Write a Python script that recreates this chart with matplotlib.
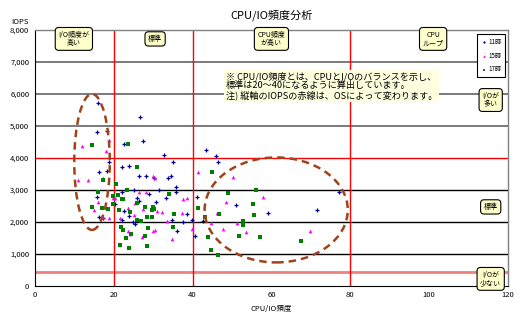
import matplotlib
matplotlib.use("Agg")
import matplotlib.pyplot as plt
from matplotlib.patches import Ellipse
from matplotlib.ticker import FuncFormatter

plt.rcParams['font.family'] = ['Noto Sans CJK JP', 'DejaVu Sans']

# 11時
x11 = [16.0, 26.6, 15.7, 22.6, 27.4, 18.8, 22.1, 23.9, 16.2, 18.3, 28.2, 26.4,
       32.7, 43.4, 35.1, 45.9, 46.4, 34.5, 33.8, 30.2, 22.1, 25.1, 31.5, 15.7,
       22.6, 25.9, 26.4, 25.4, 24.9, 22.1, 16.2, 17.3, 35.8, 35.8, 33.2, 30.7,
       41.1, 38.6, 34.8, 37.6, 39.8, 42.6, 36.0, 40.6, 51.0, 77.2, 71.6, 59.1,
       18.3, 20.3, 28.9, 24.0]
y11 = [5720, 5280, 4810, 4440, 4530, 3880, 3710, 3750, 3560, 3590, 3440, 3440,
       4090, 4250, 3880, 4060, 3880, 3440, 3375, 3375, 2940, 3000, 3000, 2780,
       2340, 2750, 2660, 1940, 2000, 2060, 2150, 2125, 3090, 2940, 2750, 2625,
       2780, 2250, 2060, 2000, 2060, 2030, 1720, 1560, 2530, 2940, 2375, 2280,
       4840, 2560, 2870, 2190]

# 15時
x15 = [11.9, 10.9, 13.5, 18.0, 17.3, 18.8, 29.9, 41.4, 50.3, 30.5, 16.0, 15.0,
       17.3, 18.8, 19.8, 20.3, 23.6, 27.4, 28.2, 25.4, 29.9, 24.1, 21.6, 27.2,
       37.6, 38.6, 32.2, 37.3, 30.5, 33.5, 39.8, 34.8, 48.5, 46.2, 44.7, 47.7,
       51.3, 53.6, 57.9, 69.8, 25.1, 23.6, 31.0, 26.5]
y15 = [4375, 3310, 3310, 4220, 3375, 4560, 3440, 3560, 3400, 3375, 2625, 2375,
       2160, 2125, 2750, 2750, 2440, 2400, 2940, 2600, 1720, 1625, 2125, 1530,
       2720, 2750, 2310, 2280, 1750, 2030, 1780, 1470, 2625, 2280, 1970, 1780,
       1970, 1690, 2780, 1720, 2220, 1720, 2330, 2950]

# 17時
x17 = [14.5, 23.6, 25.9, 17.3, 20.6, 16.0, 19.8, 22.1, 22.3, 21.1, 23.4, 14.5,
       17.0, 18.5, 19.8, 21.3, 24.1, 25.9, 26.9, 28.4, 29.7, 29.7, 30.0, 21.8,
       22.3, 23.1, 24.4, 23.9, 21.6, 27.9, 28.4, 28.7, 34.0, 30.2, 35.3, 41.4,
       43.1, 35.0, 43.9, 44.7, 46.4, 46.7, 49.0, 51.8, 52.8, 52.8, 55.3, 56.1,
       55.6, 57.1, 67.5, 44.9, 27.9, 25.9]
y17 = [4400, 4440, 3720, 3310, 3190, 2940, 2810, 2720, 2720, 2840, 3000, 2470,
       2440, 2400, 2560, 2375, 2310, 2060, 2030, 2160, 2160, 2375, 2470, 1840,
       1750, 1500, 1625, 1190, 1280, 1560, 1250, 1810, 2880, 2400, 2250, 2440,
       2160, 1840, 1530, 1125, 970, 2250, 2900, 1560, 2030, 1910, 2560, 3000,
       2220, 1530, 1400, 3560, 2470, 2590]

fig = plt.figure(figsize=(5.2, 3.22), dpi=100)
ax = fig.add_axes([0.067, 0.112, 0.910, 0.795])

ax.set_xlim(0, 120)
ax.set_ylim(0, 8000)

# 目盛線
for v in [1000, 2000, 3000]:
    ax.axhline(v, color='black', lw=1.0, zorder=1)
for v in [5000, 6000, 7000]:
    ax.axhline(v, color='#707070', lw=1.3, zorder=1)
ax.axhline(4000, color='#FF0000', lw=1.0, zorder=1)
ax.axhline(450, color='#F08080', lw=2.0, zorder=1)
for v in [20, 40, 80]:
    ax.axvline(v, color='#FF0000', lw=1.0, zorder=1)

ax.scatter(x11, y11, marker='+', s=8, color='#000099', lw=0.9, label='11時', zorder=3)
ax.scatter(x15, y15, marker='^', s=7, color='#FF00FF', lw=0, label='15時', zorder=3)
ax.scatter(x17, y17, marker='s', s=5, color='#008000', lw=0, label='17時', zorder=3)

# 楕円
ell_style = dict(fill=False, edgecolor='#A0421A', lw=1.8, linestyle=(0, (3, 2)), zorder=4)
ax.add_patch(Ellipse((14.5, 3875), 9.0, 4250, angle=0, **ell_style))
ax.add_patch(Ellipse((61.2, 2375), 36.3, 3280, **ell_style))

for s in ['left', 'bottom']:
    ax.spines[s].set_color('black')
for s in ['top', 'right']:
    ax.spines[s].set_color('#808080')
    ax.spines[s].set_linewidth(1.0)

ax.set_xticks(range(0, 121, 20))
ax.set_yticks(range(0, 8001, 1000))
ax.yaxis.set_major_formatter(FuncFormatter(lambda v, p: f'{int(v):,}'))
ax.tick_params(length=0, labelsize=5.5, pad=4)
ax.set_xlabel('CPU/IO頻度', fontsize=5.5, labelpad=4)
ax.text(-0.05, 1.015, 'IOPS', transform=ax.transAxes, fontsize=5.5, ha='left', va='bottom')
ax.set_title('CPU/IO頻度分析', fontsize=8, pad=8)

box = dict(boxstyle='round,pad=0.45,rounding_size=0.5', facecolor='#FFFFCC',
           edgecolor='black', lw=0.8)
top_boxes = [(9.9, 'I/O頻度が\n高い'), (30.5, '標準'), (60.0, 'CPU頻度\nが高い'), (101.0, 'CPU\nループ')]
for xv, t in top_boxes:
    ax.text(xv, 7720, t, fontsize=5, ha='center', va='center', bbox=box,
            linespacing=1.1, zorder=5)

right_boxes = [(5810, 'I/Oが\n多い'), (2470, '標準'), (220, 'I/Oが\n少ない')]
for yv, t in right_boxes:
    ax.text(115.6, yv, t, fontsize=5, ha='center', va='center', bbox=box,
            linespacing=1.1, zorder=5, clip_on=False)

note = ('※ CPU/IO頻度とは、CPUとI/Oのバランスを示し、\n'
        '標準は20～40になるように算出しています。\n'
        '注) 縦軸のIOPSの赤線は、OSによって変わります。')
ax.text(48.5, 6700, note, fontsize=6.6, ha='left', va='top', linespacing=1.05,
        bbox=dict(boxstyle='square,pad=0.2', facecolor='#FFFFE0', edgecolor='none'),
        zorder=5)

leg = ax.legend(loc='upper right', fontsize=4.5, frameon=True, fancybox=False,
                edgecolor='black', framealpha=1, handlelength=0.8, handletextpad=0.3,
                borderpad=0.6, labelspacing=0.9, markerscale=0.7,
                bbox_to_anchor=(1.0, 0.995))
leg.get_frame().set_linewidth(0.8)

fig.savefig('out.png', dpi=100)
